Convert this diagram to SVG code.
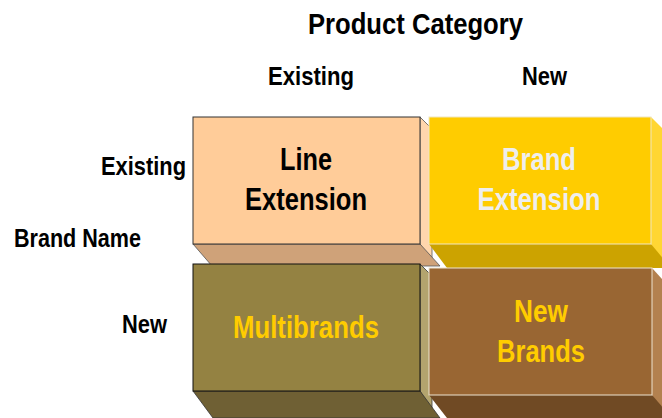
<svg xmlns="http://www.w3.org/2000/svg" width="662" height="418" viewBox="0 0 662 418">
<style>
.lbl{font-family:"Liberation Sans Narrow","Liberation Sans",Arial,sans-serif;font-weight:bold;fill:#000}
.bt{font-family:"Liberation Sans Narrow","Liberation Sans",Arial,sans-serif;font-weight:bold;text-anchor:middle}
</style>
<rect width="662" height="418" fill="#fff"/>
<g id="headers">
<text class="lbl" x="308" y="34" font-size="30" textLength="215" lengthAdjust="spacingAndGlyphs">Product Category</text>
<text class="lbl" x="268" y="85" font-size="25" textLength="86" lengthAdjust="spacingAndGlyphs">Existing</text>
<text class="lbl" x="522" y="85" font-size="25" textLength="45" lengthAdjust="spacingAndGlyphs">New</text>
<text class="lbl" x="101" y="175" font-size="25" textLength="85" lengthAdjust="spacingAndGlyphs">Existing</text>
<text class="lbl" x="14" y="247" font-size="25" textLength="127" lengthAdjust="spacingAndGlyphs">Brand Name</text>
<text class="lbl" x="122" y="333" font-size="25" textLength="45" lengthAdjust="spacingAndGlyphs">New</text>
</g>
<g id="line-extension">
<polygon points="420,117 432,129 432,264 420,244" fill="#FFD6AD" stroke="#555" stroke-width="0.8"/>
<polygon points="193,244 420,244 440,266 212,266" fill="#CFA279" stroke="#555" stroke-width="0.8"/>
<rect x="193" y="117" width="227" height="127" fill="#FFCC99" stroke="#333" stroke-width="1"/>
<text class="bt" x="306" y="170" font-size="31" fill="#000" textLength="52" lengthAdjust="spacingAndGlyphs">Line</text>
<text class="bt" x="306" y="210" font-size="31" fill="#000" textLength="122" lengthAdjust="spacingAndGlyphs">Extension</text>
</g>
<g id="brand-extension">
<polygon points="651,117 663,129 663,264 651,244" fill="#FFD633"/>
<polygon points="429,244 651,244 671,268 447,268" fill="#CCA300"/>
<rect x="429" y="117" width="222" height="127" fill="#FFCC00" stroke="#F0E6C0" stroke-width="1"/>
<text class="bt" x="539" y="170" font-size="31" fill="#EEEEEE" textLength="74" lengthAdjust="spacingAndGlyphs">Brand</text>
<text class="bt" x="539" y="210" font-size="31" fill="#EEEEEE" textLength="123" lengthAdjust="spacingAndGlyphs">Extension</text>
</g>
<g id="multibrands">
<polygon points="420,264 432,276 432,412 420,391" fill="#B3A46E" stroke="#333" stroke-width="0.8"/>
<polygon points="193,391 420,391 440,418 213,418" fill="#6F6034" stroke="#333" stroke-width="0.8"/>
<rect x="193" y="264" width="227" height="127" fill="#948242" stroke="#111" stroke-width="1"/>
<text class="bt" x="306" y="338" font-size="31" fill="#FFCC00" textLength="146" lengthAdjust="spacingAndGlyphs">Multibrands</text>
</g>
<g id="new-brands">
<polygon points="652,268 663,280 663,418 652,395" fill="#B3814F"/>
<polygon points="429,395 652,395 672,418 447,418" fill="#704A24"/>
<rect x="429" y="268" width="223" height="127" fill="#996633" stroke="#EDE3D0" stroke-width="1"/>
<text class="bt" x="541" y="322" font-size="31" fill="#FFCC00" textLength="54" lengthAdjust="spacingAndGlyphs">New</text>
<text class="bt" x="541" y="362" font-size="31" fill="#FFCC00" textLength="88" lengthAdjust="spacingAndGlyphs">Brands</text>
</g>
<g id="connectors"/>
</svg>
